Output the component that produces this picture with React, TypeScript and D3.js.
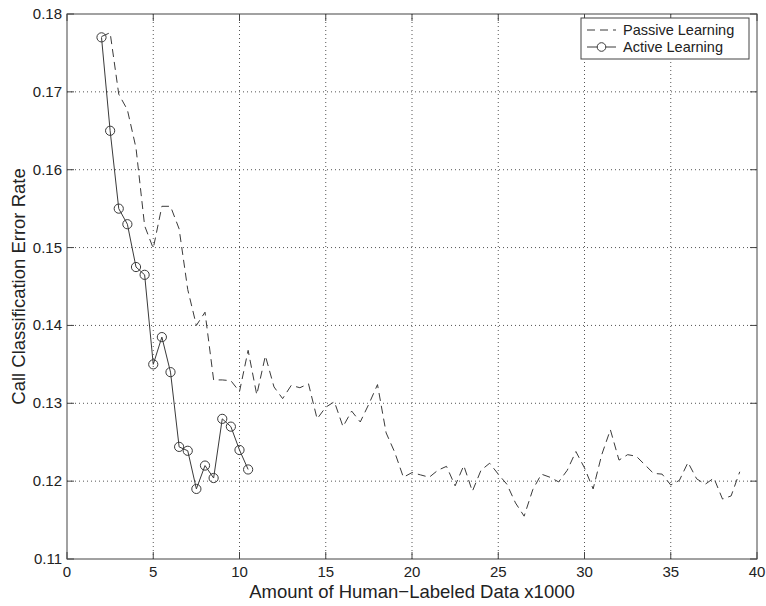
import * as d3 from "d3";
import React from "react";

// values
const activeX = [2, 2.5, 3, 3.5, 4, 4.5, 5, 5.5, 6, 6.5, 7, 7.5, 8, 8.5, 9, 9.5, 10, 10.5];
const activeY = [
  0.177, 0.165, 0.155, 0.153, 0.1475, 0.1465, 0.135, 0.1385, 0.134, 0.1244, 0.1239, 0.119,
  0.122, 0.1204, 0.128, 0.127, 0.124, 0.1215,
];

const passiveX = [
  2, 2.5, 3, 3.5, 4, 4.5, 5, 5.5, 6, 6.5, 7, 7.5, 8, 8.5, 9, 9.5, 10, 10.5, 11, 11.5, 12, 12.5,
  13, 13.5, 14, 14.5, 15, 15.5, 16, 16.5, 17, 17.5, 18, 18.5, 19, 19.5, 20, 20.5, 21, 21.5, 22,
  22.5, 23, 23.5, 24, 24.5, 25, 25.5, 26, 26.5, 27, 27.5, 28, 28.5, 29, 29.5, 30, 30.5, 31, 31.5,
  32, 32.5, 33, 33.5, 34, 34.5, 35, 35.5, 36, 36.5, 37, 37.5, 38, 38.5, 39,
];
const passiveY = [
  0.1771, 0.1776, 0.1697, 0.1677, 0.1628, 0.1528, 0.1499, 0.1553, 0.1553, 0.1524, 0.1446, 0.14,
  0.1417, 0.133, 0.133, 0.1329, 0.1315, 0.1368, 0.1311, 0.1361, 0.1321, 0.1306, 0.1323, 0.132,
  0.1325, 0.128, 0.1295, 0.1302, 0.127, 0.129, 0.1276, 0.1299, 0.1324, 0.1262, 0.1237, 0.1205,
  0.1211, 0.1208, 0.1205, 0.1214, 0.1219, 0.1194, 0.122, 0.1187, 0.1214, 0.1223, 0.1209, 0.1196,
  0.1172, 0.1155, 0.1189, 0.1209, 0.1205, 0.1199, 0.1214, 0.1238, 0.1217, 0.119, 0.1234, 0.1266,
  0.1227, 0.1234, 0.1232, 0.1221, 0.121, 0.1209, 0.1195, 0.1201, 0.1224, 0.1203, 0.1196, 0.1204,
  0.1177, 0.1181, 0.1212,
];

const xTicks = [0, 5, 10, 15, 20, 25, 30, 35, 40];
const yTicks = [0.11, 0.12, 0.13, 0.14, 0.15, 0.16, 0.17, 0.18];
const seriesNames = ["Passive Learning", "Active Learning"];

const xLabel = "Amount of Human\u2212Labeled Data x1000";
const yLabel = "Call Classification Error Rate";

export default function App() {
  const width = 766;
  const height = 606;
  const margin = { top: 14, right: 9, bottom: 47, left: 67 };
  const font = "'Liberation Sans', Arial, Helvetica, sans-serif";
  const ink = "#222";
  const lineColor = "#3a3a3a";

  const x = d3.scaleLinear().domain([0, 40]).range([margin.left, width - margin.right]);
  const y = d3.scaleLinear().domain([0.11, 0.18]).range([height - margin.bottom, margin.top]);
  const [x0, x1] = x.range();
  const [y0, y1] = y.range();
  const tickLen = 7;

  const line = d3
    .line<[number, number]>()
    .x((d) => x(d[0]))
    .y((d) => y(d[1]));

  const passive = passiveX.map((v, i) => [v, passiveY[i]] as [number, number]);
  const active = activeX.map((v, i) => [v, activeY[i]] as [number, number]);

  // legend
  const lg = { x: 581, y: 18, w: 168, h: 41 };
  const row1 = lg.y + 12;
  const row2 = lg.y + 29;

  return (
    <svg
      width={width}
      height={height}
      style={{ position: "absolute", left: 0, top: 0, background: "#fff" }}
      fontFamily={font}
    >
      <rect width={width} height={height} fill="#fff" />

      {/* grid */}
      <g stroke="#555" strokeWidth={1} strokeDasharray="1,3">
        {xTicks.slice(1, -1).map((t) => (
          <line key={"gx" + t} x1={x(t)} x2={x(t)} y1={y0} y2={y1} />
        ))}
        {yTicks.slice(1, -1).map((t) => (
          <line key={"gy" + t} x1={x0} x2={x1} y1={y(t)} y2={y(t)} />
        ))}
      </g>

      {/* ticks on all sides */}
      <g stroke="#444" strokeWidth={1}>
        {xTicks.map((t) => (
          <g key={"tx" + t}>
            <line x1={x(t)} x2={x(t)} y1={y0} y2={y0 - tickLen} />
            <line x1={x(t)} x2={x(t)} y1={y1} y2={y1 + tickLen} />
          </g>
        ))}
        {yTicks.map((t) => (
          <g key={"ty" + t}>
            <line x1={x0} x2={x0 + tickLen} y1={y(t)} y2={y(t)} />
            <line x1={x1} x2={x1 - tickLen} y1={y(t)} y2={y(t)} />
          </g>
        ))}
      </g>

      {/* frame */}
      <rect x={x0} y={y1} width={x1 - x0} height={y0 - y1} fill="none" stroke="#444" strokeWidth={1} />

      {/* tick labels */}
      <g fill={ink} fontSize={15}>
        {xTicks.map((t) => (
          <text key={"lx" + t} x={x(t)} y={y0 + 18} textAnchor="middle">
            {t}
          </text>
        ))}
        {yTicks.map((t) => (
          <text key={"ly" + t} x={x0 - 5} y={y(t) + 5} textAnchor="end">
            {t.toFixed(2)}
          </text>
        ))}
      </g>

      {/* axis labels */}
      <text x={(x0 + x1) / 2} y={y0 + 39} textAnchor="middle" fontSize={18.5} fill={ink}>
        {xLabel}
      </text>
      <text
        transform={`translate(25, ${(y0 + y1) / 2}) rotate(-90)`}
        textAnchor="middle"
        fontSize={18.5}
        fill={ink}
      >
        {yLabel}
      </text>

      {/* passive learning */}
      <path d={line(passive) ?? ""} fill="none" stroke={lineColor} strokeWidth={1} strokeDasharray="8,5" />

      {/* active learning */}
      <path d={line(active) ?? ""} fill="none" stroke={lineColor} strokeWidth={1} />
      {active.map((d, i) => (
        <circle key={"c" + i} cx={x(d[0])} cy={y(d[1])} r={4.6} fill="none" stroke={lineColor} strokeWidth={1} />
      ))}

      {/* legend */}
      <g>
        <rect x={lg.x} y={lg.y} width={lg.w} height={lg.h} fill="#fff" stroke="#444" strokeWidth={1} />
        <line x1={lg.x + 6} x2={lg.x + 35} y1={row1} y2={row1} stroke={lineColor} strokeDasharray="8,5" />
        <text x={lg.x + 42} y={row1 + 5} fontSize={14.5} fill={ink}>
          {seriesNames[0]}
        </text>
        <line x1={lg.x + 6} x2={lg.x + 35} y1={row2} y2={row2} stroke={lineColor} />
        <circle cx={lg.x + 20.5} cy={row2} r={4.3} fill="#fff" stroke={lineColor} />
        <text x={lg.x + 42} y={row2 + 5} fontSize={14.5} fill={ink}>
          {seriesNames[1]}
        </text>
      </g>
    </svg>
  );
}
